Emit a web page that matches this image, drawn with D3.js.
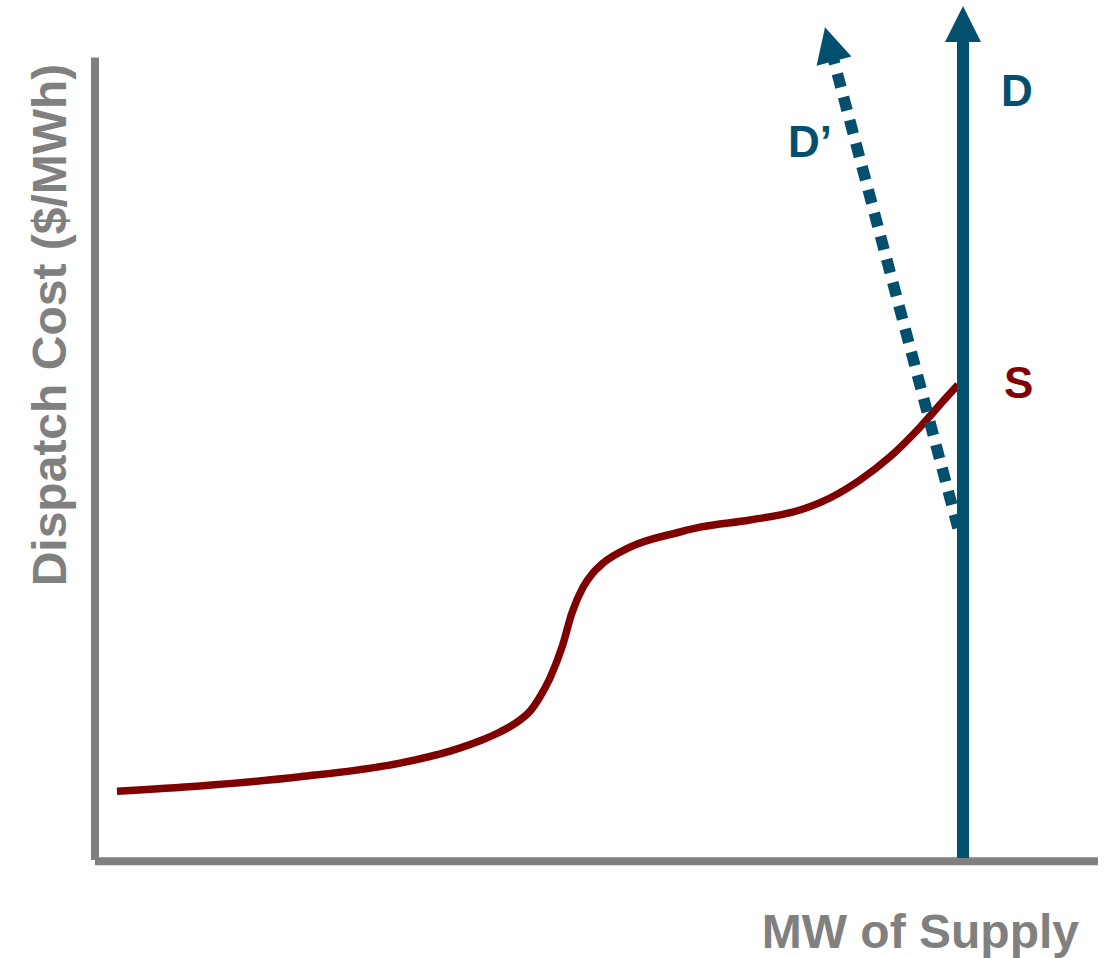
<!DOCTYPE html>
<html>
<head>
<meta charset="utf-8">
<script src="https://cdn.jsdelivr.net/npm/d3@7"></script>
<style>
  html, body { margin: 0; padding: 0; background: #ffffff; }
  svg { display: block; }
  text { font-family: "Liberation Sans", Arial, sans-serif; font-weight: bold; }
</style>
</head>
<body>
<script>
// ---- Data (conceptual units: MW of supply 0-100, dispatch cost 0-100) ----
const supplyMW   = [2.1, 10.4, 20.4, 30.4, 35.4, 38.4, 40.4, 42.4, 43.4, 44.4, 45.4, 46.6, 47.6, 48.7, 49.7, 50.7, 53.4, 58.4, 60.4, 65.4, 70.4, 73.4, 76.4, 79.4, 82.4, 85.1, 86.2];
const supplyCost = [8.6, 9.25, 10.4, 12.1, 13.6, 14.9, 16.0, 17.5, 18.6, 20.4, 22.75, 26.6, 30.9, 34.1, 35.9, 37.1, 39.1, 41.0, 41.6, 42.5, 43.75, 45.25, 47.5, 50.4, 54.1, 57.9, 59.4];
const demandMW   = [86.7, 86.7];      // D: vertical (inelastic) demand
const demandCost = [0, 106.75];
const demand2MW   = [86.2, 72.9];     // D': elastic demand (dashed)
const demand2Cost = [41.5, 104.1];
const seriesLabels = ["S", "D", "D\u2019"];
const axisTitles = ["MW of Supply", "Dispatch Cost ($/MWh)"];

const W = 1104, H = 958;
const GRAY = "#808080", BLUE = "#02506e", RED = "#800000";

const svg = d3.select("body").append("svg").attr("width", W).attr("height", H);

const x = d3.scaleLinear().domain([0, 100]).range([96, 1096]);
const y = d3.scaleLinear().domain([0, 100]).range([860, 60]);

// ---- Axes (plain lines, no ticks) ----
svg.append("line")
  .attr("x1", x(-0.1)).attr("x2", x(-0.1))
  .attr("y1", y(100.3)).attr("y2", y(0))
  .attr("stroke", GRAY).attr("stroke-width", 8);
svg.append("line")
  .attr("x1", x(-0.1)).attr("x2", x(100.2))
  .attr("y1", y(-0.15)).attr("y2", y(-0.15))
  .attr("stroke", GRAY).attr("stroke-width", 8);

// ---- Supply curve ----
const supply = supplyMW.map((m, i) => [m, supplyCost[i]]);
svg.append("path")
  .datum(supply)
  .attr("fill", "none")
  .attr("stroke", RED)
  .attr("stroke-width", 7.5)
  .attr("stroke-linecap", "butt")
  .attr("d", d3.line().x(d => x(d[0])).y(d => y(d[1])).curve(d3.curveMonotoneX));

// ---- Arrow helper ----
function arrow(x0, y0, x1, y1, opts) {
  const dx = x1 - x0, dy = y1 - y0, L = Math.hypot(dx, dy);
  const ux = dx / L, uy = dy / L;         // unit direction
  const px = -uy, py = ux;                // perpendicular
  const hl = opts.headLen, hw = opts.headWidth / 2;
  const bx = x1 - ux * hl, by = y1 - uy * hl;
  const g = svg.append("g");
  g.append("line")
    .attr("x1", x0).attr("y1", y0)
    .attr("x2", bx + ux * 1).attr("y2", by + uy * 1)
    .attr("stroke", BLUE)
    .attr("stroke-width", opts.width)
    .attr("stroke-dasharray", opts.dash || null);
  g.append("path")
    .attr("d", `M${x1},${y1}L${bx + px * hw},${by + py * hw}L${bx - px * hw},${by - py * hw}Z`)
    .attr("fill", BLUE);
}

// D' dashed
arrow(x(demand2MW[0]), y(demand2Cost[0]), x(demand2MW[1]), y(demand2Cost[1]),
      { width: 11.5, headLen: 35, headWidth: 36, dash: "14 10" });
// D solid
arrow(x(demandMW[0]), y(demandCost[0]) - 2, x(demandMW[1]), y(demandCost[1]),
      { width: 12, headLen: 36, headWidth: 36 });

// ---- Series labels ----
svg.append("text")
  .attr("x", x(supplyMW[supplyMW.length - 1]) + 46)
  .attr("y", y(supplyCost[supplyCost.length - 1]) + 13)
  .attr("font-size", 44).attr("fill", RED).text(seriesLabels[0]);
svg.append("text")
  .attr("x", x(demandMW[0]) + 38)
  .attr("y", y(demandCost[1]) + 100)
  .attr("font-size", 44).attr("fill", BLUE).text(seriesLabels[1]);
svg.append("text")
  .attr("x", x(demand2MW[1]) - 37)
  .attr("y", y(demand2Cost[1]) + 130)
  .attr("font-size", 44).attr("fill", BLUE).text(seriesLabels[2]);

// ---- Axis titles ----
svg.append("text")
  .attr("x", 1079).attr("y", 948)
  .attr("text-anchor", "end")
  .attr("font-size", 48).attr("fill", GRAY).text(axisTitles[0]);
svg.append("text")
  .attr("transform", "translate(66,325) rotate(-90)")
  .attr("text-anchor", "middle")
  .attr("font-size", 48).attr("fill", GRAY).text(axisTitles[1]);
</script>
</body>
</html>
